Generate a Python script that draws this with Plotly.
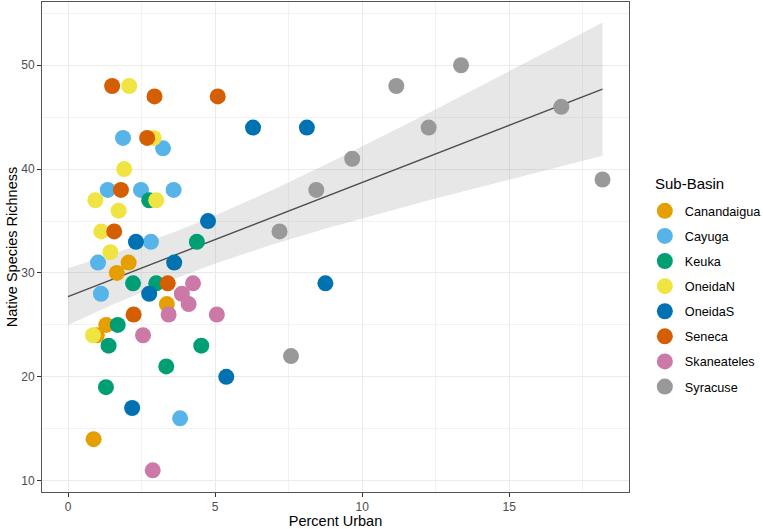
import numpy as np
import plotly.graph_objects as go

basins = ["Canandaigua", "Cayuga", "Keuka", "OneidaN", "OneidaS", "Seneca", "Skaneateles", "Syracuse"]
colors = ["#E69F00", "#56B4E9", "#009E73", "#F0E442", "#0072B2", "#D55E00", "#CC79A7", "#999999"]

urban = {
    "Canandaigua": [2.06, 1.66, 3.36, 1.30, 0.98, 0.87],
    "Cayuga": [1.87, 3.23, 1.35, 2.48, 3.59, 2.82, 1.02, 1.12, 3.81],
    "Keuka": [2.76, 4.38, 2.21, 3.00, 1.69, 1.38, 4.53, 3.34, 1.29],
    "OneidaN": [2.08, 2.91, 1.91, 0.93, 3.00, 1.72, 1.13, 1.44, 0.85],
    "OneidaS": [6.29, 8.12, 4.76, 2.31, 3.61, 2.76, 8.75, 5.38, 2.18],
    "Seneca": [1.50, 2.94, 5.09, 2.69, 1.80, 1.57, 3.39, 2.23],
    "Skaneateles": [4.25, 3.87, 4.10, 3.42, 5.06, 2.55, 2.88],
    "Syracuse": [13.36, 11.16, 16.77, 12.26, 9.66, 8.44, 18.17, 7.19, 7.58],
}
richness = {
    "Canandaigua": [31, 30, 27, 25, 24, 14],
    "Cayuga": [43, 42, 38, 38, 38, 33, 31, 28, 16],
    "Keuka": [37, 33, 29, 29, 25, 23, 23, 21, 19],
    "OneidaN": [48, 43, 40, 37, 37, 36, 34, 32, 24],
    "OneidaS": [44, 44, 35, 33, 31, 28, 29, 20, 17],
    "Seneca": [48, 47, 47, 43, 38, 34, 29, 26],
    "Skaneateles": [29, 28, 27, 26, 26, 24, 11],
    "Syracuse": [50, 48, 46, 44, 41, 38, 39, 34, 22],
}

# Linear trend and 95% band
# (the reference fit includes overlapping points that cannot be seen individually)
fit_intercept = 27.72
fit_slope = 1.10
band_center_x = 3.70      # x where the band is narrowest
band_min_half = 2.26      # narrowest half-width
band_spread = 0.415       # growth of half-width per unit distance from band_center_x

x_all = np.concatenate([urban[b] for b in basins])
xs = np.linspace(0, x_all.max(), 80)
ys = fit_intercept + fit_slope * xs
half = np.sqrt(band_min_half ** 2 + (band_spread * (xs - band_center_x)) ** 2)
upper = ys + half
lower = ys - half

fig = go.Figure()
fig.add_trace(go.Scatter(
    x=np.concatenate([xs, xs[::-1]]), y=np.concatenate([upper, lower[::-1]]),
    fill="toself", fillcolor="rgba(153,153,153,0.23)", line=dict(width=0),
    hoverinfo="skip", showlegend=False, mode="lines"))
fig.add_trace(go.Scatter(x=xs, y=ys, mode="lines", line=dict(color="#4D4D4D", width=1.4),
                         showlegend=False, hoverinfo="skip"))

for b, c in zip(basins, colors):
    fig.add_trace(go.Scatter(
        x=urban[b], y=richness[b], mode="markers", name=b, legendgroup=b,
        marker=dict(color=c, size=16, line=dict(width=0))))

axis_common = dict(
    showgrid=True, gridcolor="#EBEBEB", gridwidth=1.1,
    zeroline=False, showline=True, mirror=True, linecolor="#555555", linewidth=1,
    ticks="outside", ticklen=4, tickcolor="#333333", tickwidth=1,
    tickfont=dict(family="Liberation Sans, Arial", size=12, color="#4D4D4D"),
    title_font=dict(family="Liberation Sans, Arial", size=14.5, color="#000000"),
)
fig.update_xaxes(range=[-0.884, 19.07], tickvals=[0, 5, 10, 15], title_text="Percent Urban",
                 minor=dict(tickvals=[2.5, 7.5, 12.5, 17.5], showgrid=True, gridcolor="#F2F2F2",
                            gridwidth=0.6, ticks=""),
                 title_standoff=0, **axis_common)
fig.update_yaxes(range=[8.91, 56.09], tickvals=[10, 20, 30, 40, 50], title_text="Native Species Richness",
                 minor=dict(tickvals=[15, 25, 35, 45, 55], showgrid=True, gridcolor="#F2F2F2",
                            gridwidth=0.6, ticks=""),
                 title_standoff=0, **axis_common)

fig.update_layout(
    width=763, height=529,
    margin=dict(l=42, r=134, t=2, b=37, autoexpand=False),
    plot_bgcolor="white", paper_bgcolor="white",
    font=dict(family="Liberation Sans, Arial", color="#000000"),
    legend=dict(
        font=dict(size=12.7, color="#000000"),
        x=1.027, y=0.604, xanchor="left", yanchor="top",
        tracegroupgap=5.6, itemsizing="trace", bgcolor="rgba(0,0,0,0)",
    ),
    annotations=[dict(
        text="Sub-Basin", xref="paper", yref="paper", x=1.0414, y=0.6305,
        xanchor="left", yanchor="middle", showarrow=False,
        font=dict(family="Liberation Sans, Arial", size=15, color="#000000"))],
)

fig.write_html("out.html")
